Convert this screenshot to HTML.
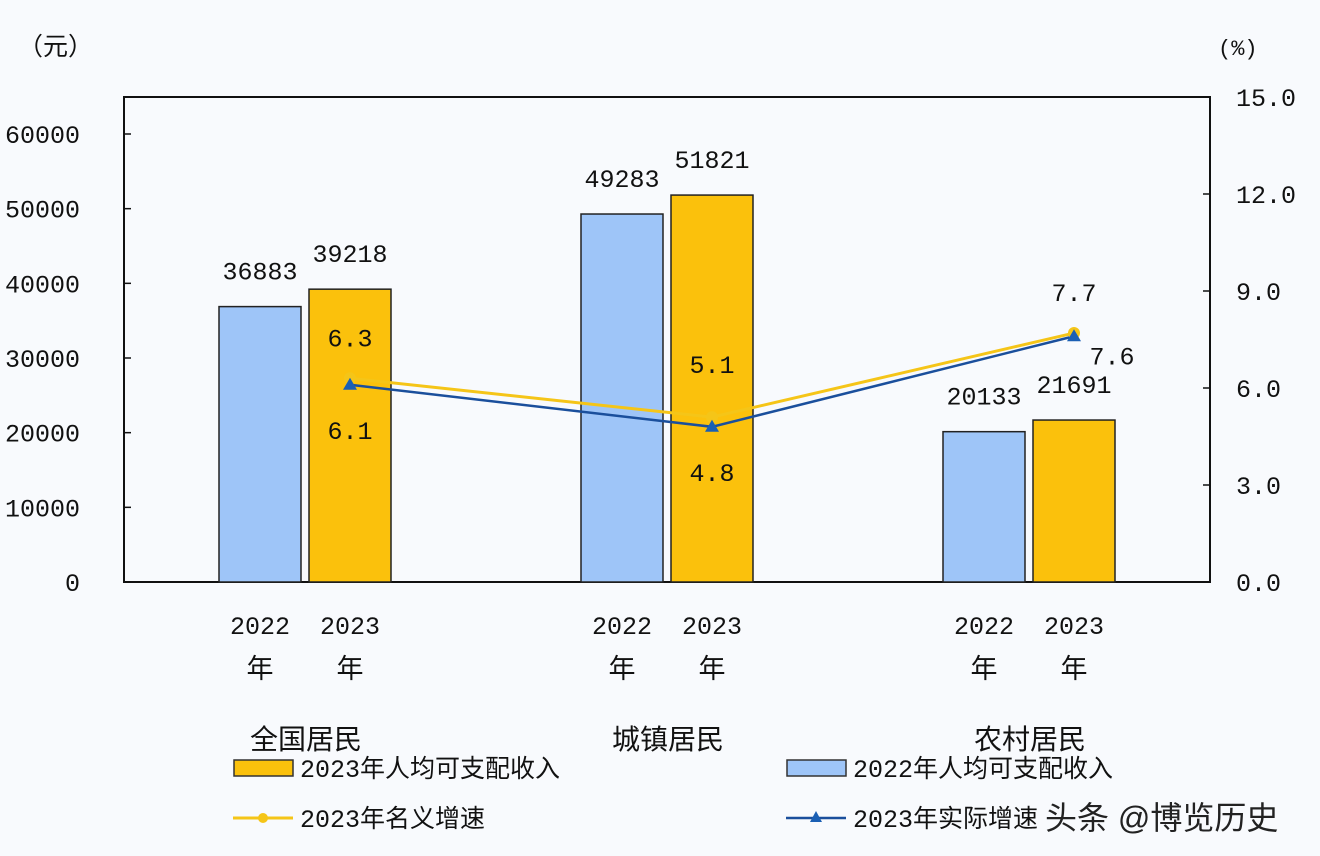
<!DOCTYPE html>
<html><head><meta charset="utf-8">
<style>
html,body{margin:0;padding:0;background:#f8fafd;}
svg{display:block;font-family:"Liberation Mono","Noto Sans CJK SC",monospace;}
.cjk{font-family:"Liberation Sans","Noto Sans CJK SC",sans-serif;}
</style></head>
<body>
<svg id="chart" width="1320" height="856" viewBox="0 0 1320 856"></svg>
<script>
const categories = ["全国居民","城镇居民","农村居民"];
const income2022 = [36883, 49283, 20133];
const income2023 = [39218, 51821, 21691];
const nominalGrowth = [6.3, 5.1, 7.7];
const realGrowth = [6.1, 4.8, 7.6];
const leftTicks = [0,10000,20000,30000,40000,50000,60000];
const rightTicks = [0.0,3.0,6.0,9.0,12.0,15.0];

const NS="http://www.w3.org/2000/svg";
const svg=document.getElementById('chart');
function el(tag,attrs,parent){const e=document.createElementNS(NS,tag);for(const k in attrs)e.setAttribute(k,attrs[k]);(parent||svg).appendChild(e);return e;}
function txt(s,attrs){const e=el('text',attrs);e.textContent=s;return e;}
const y0=582;
const yL=v=>y0-v*448/60000;
const yR=v=>y0-v*485/15;
const groupCenters=[305,667,1029];
const barW=82, gap=8;
const FS=25;

const frame=el('rect',{x:124,y:97,width:1086,height:485,fill:'none',stroke:'#111','stroke-width':2});



leftTicks.forEach(v=>{
  const t=txt(String(v),{x:80,y:yL(v)+9,'text-anchor':'end','font-size':FS,fill:'#111'});
  
  
  el('line',{x1:124,x2:131,y1:yL(v),y2:yL(v),stroke:'#111','stroke-width':1.5});
});
rightTicks.forEach(v=>{
  const t=txt(v.toFixed(1),{x:1236,y:yR(v)+9,'font-size':FS,fill:'#111'});
  
  
  el('line',{x1:1203,x2:1210,y1:yR(v),y2:yR(v),stroke:'#111','stroke-width':1.5});
});
let u=txt('（元）',{x:18,y:55,'font-size':25,fill:'#111',class:'cjk'});


u=txt('(%)',{x:1218,y:55,'font-size':22,fill:'#111'});



categories.forEach((c,i)=>{
  const gc=groupCenters[i];
  const bx1=gc-gap/2-barW, bx2=gc+gap/2;
  const b1=el('rect',{x:bx1,y:yL(income2022[i]),width:barW,height:y0-yL(income2022[i]),fill:'#9ec5f8',stroke:'#222','stroke-width':1.5});
  
  
  const b2=el('rect',{x:bx2,y:yL(income2023[i]),width:barW,height:y0-yL(income2023[i]),fill:'#fbc10c',stroke:'#222','stroke-width':1.5});
  
  
  let t=txt(String(income2022[i]),{x:bx1+barW/2,y:yL(income2022[i])-27,'text-anchor':'middle','font-size':FS,fill:'#111'});
  
  
  t=txt(String(income2023[i]),{x:bx2+barW/2,y:yL(income2023[i])-27,'text-anchor':'middle','font-size':FS,fill:'#111'});
  
  
  [[bx1+barW/2,'2022'],[bx2+barW/2,'2023']].forEach(([x,yr])=>{
    let a=txt(yr,{x:x,y:634,'text-anchor':'middle','font-size':FS,fill:'#111'});
    
    
    a=txt('年',{x:x,y:678,'text-anchor':'middle','font-size':27,fill:'#111',class:'cjk'});
    
    
  });
  t=txt(c,{x:gc+1,y:749,'text-anchor':'middle','font-size':28,fill:'#111',class:'cjk'});
  
  
});

const px=groupCenters.map(g=>g+gap/2+barW/2);
const nl=el('polyline',{points:px.map((x,i)=>x+','+yR(nominalGrowth[i])).join(' '),fill:'none',stroke:'#f5c518','stroke-width':3});


const rl=el('polyline',{points:px.map((x,i)=>x+','+yR(realGrowth[i])).join(' '),fill:'none',stroke:'#1a4f9c','stroke-width':2.5});


px.forEach((x,i)=>{
  const m=el('circle',{cx:x,cy:yR(nominalGrowth[i]),r:6,fill:'#f5c518'});
  
  
  const y=yR(realGrowth[i]);
  const r=el('polygon',{points:`${x},${y-7} ${x+7},${y+5} ${x-7},${y+5}`,fill:'#1a5fb4'});
  
  
});
const nOff=[[0,-32],[0,-44],[0,-32]], rOff=[[0,54],[0,54],[38,28]];
px.forEach((x,i)=>{
  let t=txt(nominalGrowth[i].toFixed(1),{x:x+nOff[i][0],y:yR(nominalGrowth[i])+nOff[i][1],'text-anchor':'middle','font-size':FS,fill:'#111'});
  
  
  t=txt(realGrowth[i].toFixed(1),{x:x+rOff[i][0],y:yR(realGrowth[i])+rOff[i][1],'text-anchor':'middle','font-size':FS,fill:'#111'});
  
  
});

let g=el('rect',{x:234,y:760,width:59,height:16,fill:'#fbc10c',stroke:'#333','stroke-width':1.5});


g=txt('2023年人均可支配收入',{x:300,y:777,'font-size':25,fill:'#111'});


g=el('rect',{x:787,y:760,width:59,height:16,fill:'#9ec5f8',stroke:'#333','stroke-width':1.5});


g=txt('2022年人均可支配收入',{x:853,y:777,'font-size':25,fill:'#111'});


el('line',{x1:233,x2:293,y1:818,y2:818,stroke:'#f5c518','stroke-width':3});
g=el('circle',{cx:263,cy:818,r:5,fill:'#f5c518'});


g=txt('2023年名义增速',{x:300,y:827,'font-size':25,fill:'#111'});


el('line',{x1:786,x2:846,y1:818,y2:818,stroke:'#1a4f9c','stroke-width':2.5});
g=el('polygon',{points:'816,811 822,822 810,822',fill:'#1a5fb4'});


g=txt('2023年实际增速',{x:853,y:827,'font-size':25,fill:'#111'});


g=txt('头条 @博览历史',{x:1045,y:829,'font-size':32,fill:'#222',class:'cjk'});


</script>
</body></html>
